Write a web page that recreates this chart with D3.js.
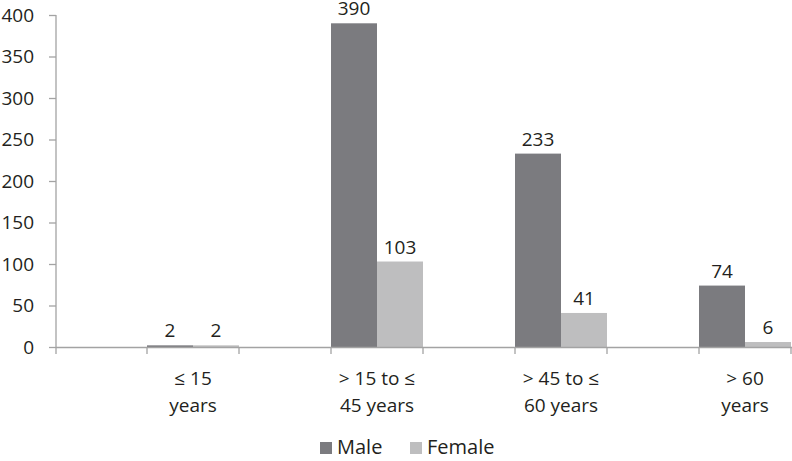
<!DOCTYPE html>
<html>
<head>
<meta charset="utf-8">
<script src="https://cdn.jsdelivr.net/npm/d3@7"></script>
<style>
  body { margin: 0; background: #fff; }
  text { font-family: "Open Sans", Lato, sans-serif; fill: #231f20; }
</style>
</head>
<body>
<svg id="chart" width="792" height="461"></svg>
<script>
// dados
const categories = [["\u2264 15", "years"], ["> 15 to \u2264", "45 years"], ["> 45 to \u2264", "60 years"], ["> 60", "years"]];
const seriesNames = ["Male", "Female"];
const male = [2, 390, 233, 74];
const female = [2, 103, 41, 6];
const yTicks = [0, 50, 100, 150, 200, 250, 300, 350, 400];

const COLORS = ["#7b7b7f", "#bebebf"];
const AXIS = "#a3a3a3";
const FS = 19;

const svg = d3.select("#chart");
const x0 = 56, yTop = 15, yBase = 347;

const y = d3.scaleLinear().domain([0, 400]).range([yBase, yTop]);
const x = d3.scaleBand().domain(d3.range(categories.length))
  .range([101, 837]).paddingInner(0.5).paddingOuter(0.25);
const xs = d3.scaleBand().domain(seriesNames).range([0, x.bandwidth()]);

// eixo Y
const yAxis = svg.append("g").attr("transform", `translate(${x0},0)`)
  .call(d3.axisLeft(y).tickValues(yTicks).tickSize(7).tickPadding(15).tickSizeOuter(0));
yAxis.select(".domain").attr("stroke", AXIS).attr("stroke-width", 1.3).attr("d", `M0,${yTop}V${yBase + 7}`);
yAxis.selectAll(".tick line").attr("stroke", AXIS).attr("stroke-width", 1.3);
yAxis.selectAll(".tick text").attr("font-size", FS).attr("fill", "#231f20")
  .attr("font-family", '"Open Sans", Lato, sans-serif');

// barras
const data = seriesNames.map((s, si) => ({ name: s, values: si === 0 ? male : female }));
data.forEach((s, si) => {
  svg.append("g").selectAll("rect").data(s.values).join("rect")
    .attr("x", (d, i) => x(i) + xs(s.name))
    .attr("width", xs.bandwidth())
    .attr("y", (d) => y(d))
    .attr("height", (d) => yBase - y(d))
    .attr("fill", COLORS[si]);
  svg.append("g").selectAll("text").data(s.values).join("text")
    .attr("x", (d, i) => x(i) + xs(s.name) + xs.bandwidth() / 2)
    .attr("y", (d) => y(d) - 8)
    .attr("text-anchor", "middle")
    .attr("font-size", FS)
    .text((d) => d);
});

// eixo X (linha + ticks nas bordas das barras)
svg.append("line").attr("x1", x0).attr("x2", 792).attr("y1", yBase + 0.5).attr("y2", yBase + 0.5)
  .attr("stroke", AXIS).attr("stroke-width", 1.3);
const edges = [];
categories.forEach((c, i) => { edges.push(x(i), x(i) + x.bandwidth()); });
svg.append("g").selectAll("line").data(edges).join("line")
  .attr("x1", (d) => Math.min(d, 791)).attr("x2", (d) => Math.min(d, 791))
  .attr("y1", yBase).attr("y2", yBase + 7).attr("stroke", AXIS).attr("stroke-width", 1.3);

// rótulos das categorias (duas linhas)
const lbl = svg.append("g").selectAll("text").data(categories).join("text")
  .attr("text-anchor", "middle").attr("font-size", FS)
  .attr("transform", (d, i) => `translate(${x(i) + x.bandwidth() / 2},0)`);
lbl.append("tspan").attr("x", 0).attr("y", 385).text((d) => d[0]);
lbl.append("tspan").attr("x", 0).attr("y", 412).text((d) => d[1]);

// legenda
const legend = svg.append("g").attr("transform", "translate(320,448)");
const lx = [0, 90];
seriesNames.forEach((s, i) => {
  legend.append("rect").attr("x", lx[i]).attr("y", -6).attr("width", 12).attr("height", 12).attr("fill", COLORS[i]);
  legend.append("text").attr("x", lx[i] + 17).attr("y", 6).attr("font-size", 20).text(s);
});
</script>
</body>
</html>
